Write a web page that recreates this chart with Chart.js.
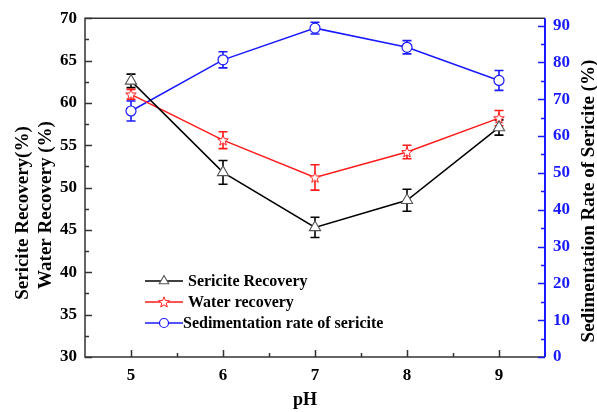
<!DOCTYPE html>
<html>
<head>
<meta charset="utf-8">
<script src="https://cdn.jsdelivr.net/npm/chart.js@4.4.1/dist/chart.umd.min.js"></script>
<style>
  html, body { margin: 0; padding: 0; background: #fff; }
  #wrap { width: 597px; height: 412px; }
</style>
</head>
<body>
<div id="wrap"><canvas id="chart" width="597" height="412"></canvas></div>
<script>
// pH values tested
const phValues = [5, 6, 7, 8, 9];

// Sericite recovery (%) with standard deviation
const sericiteRecovery = [62.6, 51.8, 45.3, 48.5, 57.1];
const sericiteErr = [0.8, 1.4, 1.2, 1.3, 0.9];

// Water recovery (%) with standard deviation
const waterRecovery = [61.0, 55.6, 51.2, 54.2, 58.2];
const waterErr = [0.6, 1.0, 1.5, 0.8, 0.9];

// Sedimentation rate of sericite (%) with standard deviation
const sedimentationRate = [66.8, 80.7, 89.3, 84.1, 75.1];
const sedimentationErr = [2.7, 2.2, 1.6, 1.8, 2.7];

// Axis tick labels
const leftTicks = [30, 35, 40, 45, 50, 55, 60, 65, 70];
const rightTicks = [0, 10, 20, 30, 40, 50, 60, 70, 80, 90];

const FONT = '"Liberation Serif", "Times New Roman", serif';
const BLUE = '#1a1aff';
const RED = '#ff1a1a';
const BLACK = '#000000';

// Hollow five-pointed star marker
function makeStar(color, ro) {
  const size = Math.ceil(ro * 2 + 4);
  const c = document.createElement('canvas');
  c.width = size; c.height = size;
  const g = c.getContext('2d');
  const cx = size / 2, cy = size / 2 + ro * 0.08, ri = ro * 0.42;
  g.beginPath();
  for (let k = 0; k < 10; k++) {
    const r = k % 2 === 0 ? ro : ri;
    const a = -Math.PI / 2 + k * Math.PI / 5;
    const px = cx + r * Math.cos(a), py = cy + r * Math.sin(a);
    if (k === 0) g.moveTo(px, py); else g.lineTo(px, py);
  }
  g.closePath();
  g.fillStyle = '#fff';
  g.fill();
  g.strokeStyle = color;
  g.lineWidth = 1;
  g.stroke();
  return c;
}
const starMarker = makeStar(RED, 5.6);

const toPoints = (vals) => vals.map((v, i) => ({ x: phValues[i], y: v }));

const datasets = [
  {
    label: 'Sericite Recovery',
    data: toPoints(sericiteRecovery),
    errors: sericiteErr,
    yAxisID: 'y',
    borderColor: BLACK,
    borderWidth: 1.5,
    pointStyle: 'triangle',
    pointRadius: 6.5,
    pointBorderColor: '#555',
    pointBackgroundColor: '#fff',
    pointBorderWidth: 1.1,
    errColor: BLACK
  },
  {
    label: 'Water recovery',
    data: toPoints(waterRecovery),
    errors: waterErr,
    yAxisID: 'y',
    borderColor: RED,
    borderWidth: 1.5,
    pointStyle: starMarker,
    pointRadius: 6,
    pointBorderColor: RED,
    pointBackgroundColor: '#fff',
    errColor: RED
  },
  {
    label: 'Sedimentation rate of sericite',
    data: toPoints(sedimentationRate),
    errors: sedimentationErr,
    yAxisID: 'y2',
    borderColor: BLUE,
    borderWidth: 1.5,
    pointStyle: 'circle',
    pointRadius: 5,
    pointBorderColor: BLUE,
    pointBackgroundColor: '#fff',
    pointBorderWidth: 1.2,
    errColor: BLUE
  }
];

// Error bars with caps, drawn beneath the markers
const errorBars = {
  id: 'errorBars',
  beforeDatasetsDraw(chart) {
    const ctx = chart.ctx;
    const xs = chart.scales.x;
    chart.data.datasets.forEach((ds) => {
      const ys = chart.scales[ds.yAxisID];
      ctx.save();
      ctx.strokeStyle = ds.errColor;
      ctx.lineWidth = 1.6;
      ds.data.forEach((p, i) => {
        const e = ds.errors[i];
        const x = xs.getPixelForValue(p.x);
        const yt = ys.getPixelForValue(p.y + e);
        const yb = ys.getPixelForValue(p.y - e);
        ctx.beginPath();
        ctx.moveTo(x, yt); ctx.lineTo(x, yb);
        ctx.moveTo(x - 4.5, yt); ctx.lineTo(x + 4.5, yt);
        ctx.moveTo(x - 4.5, yb); ctx.lineTo(x + 4.5, yb);
        ctx.stroke();
      });
      ctx.restore();
    });
  }
};

// Plot frame with inward major/minor ticks
const frameAndTicks = {
  id: 'frameAndTicks',
  afterDraw(chart) {
    const ctx = chart.ctx;
    const a = chart.chartArea;
    const xs = chart.scales.x, yl = chart.scales.y, yr = chart.scales.y2;
    ctx.save();
    ctx.lineCap = 'butt';
    // top, left, bottom frame
    ctx.strokeStyle = '#333';
    ctx.lineWidth = 1.5;
    ctx.beginPath();
    ctx.moveTo(a.right, a.top); ctx.lineTo(a.left, a.top);
    ctx.lineTo(a.left, a.bottom); ctx.lineTo(a.right, a.bottom);
    ctx.stroke();
    // bottom ticks
    ctx.beginPath();
    for (let v = 5; v <= 9; v += 0.5) {
      const x = Math.round(xs.getPixelForValue(v)) + 0.5;
      const len = Number.isInteger(v) ? 7 : 4;
      ctx.moveTo(x, a.bottom); ctx.lineTo(x, a.bottom - len);
    }
    // left ticks
    for (let v = 30; v <= 70; v += 2.5) {
      const y = Math.round(yl.getPixelForValue(v)) + 0.5;
      const len = v % 5 === 0 ? 7 : 4;
      ctx.moveTo(a.left, y); ctx.lineTo(a.left + len, y);
    }
    ctx.stroke();
    // right axis in blue
    ctx.strokeStyle = BLUE;
    ctx.lineWidth = 2;
    ctx.beginPath();
    ctx.moveTo(a.right, a.top); ctx.lineTo(a.right, a.bottom);
    ctx.stroke();
    ctx.lineWidth = 1.5;
    ctx.beginPath();
    for (let v = 0; v <= 90; v += 5) {
      const y = Math.round(yr.getPixelForValue(v)) + 0.5;
      const len = v % 10 === 0 ? 7 : 4;
      ctx.moveTo(a.right, y); ctx.lineTo(a.right - len, y);
    }
    ctx.stroke();
    ctx.restore();
  }
};

// Axis titles
const axisTitles = {
  id: 'axisTitles',
  afterDraw(chart) {
    const ctx = chart.ctx;
    ctx.save();
    ctx.fillStyle = BLACK;
    ctx.font = 'bold 19px ' + FONT;
    ctx.textAlign = 'center';
    ctx.textBaseline = 'middle';
    const vtext = (txt, x, y) => {
      ctx.save();
      ctx.translate(x, y);
      ctx.rotate(-Math.PI / 2);
      ctx.fillText(txt, 0, 0);
      ctx.restore();
    };
    vtext('Sericite Recovery(%)', 23, 213);
    vtext('Water Recovery (%)', 46, 205);
    vtext('Sedimentation Rate of Sericite (%)', 589, 201);
    ctx.font = 'bold 18px ' + FONT;
    ctx.fillText('pH', 305, 400);
    ctx.restore();
  }
};

// Legend inside the plot area
const innerLegend = {
  id: 'innerLegend',
  afterDraw(chart) {
    const ctx = chart.ctx;
    const rows = [281, 302, 323];
    const radii = [5.5, 5, 4.5];
    ctx.save();
    chart.data.datasets.forEach((ds, i) => {
      const y = rows[i];
      ctx.strokeStyle = ds.borderColor;
      ctx.lineWidth = 1.5;
      ctx.beginPath();
      ctx.moveTo(145, y); ctx.lineTo(183, y);
      ctx.stroke();
      ctx.fillStyle = ds.pointBackgroundColor;
      ctx.strokeStyle = ds.pointBorderColor;
      ctx.lineWidth = ds.pointBorderWidth || 1;
      Chart.helpers.drawPoint(ctx, {
        pointStyle: ds.pointStyle,
        radius: radii[i],
        rotation: 0,
        borderWidth: ds.pointBorderWidth || 1
      }, 164, y);
      ctx.fillStyle = BLACK;
      ctx.font = 'bold 16px ' + FONT;
      ctx.textAlign = 'left';
      ctx.textBaseline = 'middle';
      ctx.fillText(ds.label, i === 2 ? 183 : 188, y + 1);
    });
    ctx.restore();
  }
};

new Chart(document.getElementById('chart'), {
  type: 'line',
  data: { datasets },
  options: {
    responsive: false,
    animation: false,
    devicePixelRatio: 1,
    layout: { padding: { top: 17, left: 0, right: 0, bottom: 0 } },
    plugins: {
      legend: { display: false },
      tooltip: { enabled: false }
    },
    scales: {
      x: {
        type: 'linear',
        min: 4.5,
        max: 9.5,
        afterBuildTicks: (s) => { s.ticks = phValues.map((v) => ({ value: v })); },
        afterFit: (s) => { s.height = 55; },
        grid: { display: false, drawTicks: false },
        border: { display: false },
        ticks: { color: BLACK, padding: 8, font: { family: FONT, size: 17, weight: 'bold' } }
      },
      y: {
        position: 'left',
        min: 30,
        max: 70,
        afterBuildTicks: (s) => { s.ticks = leftTicks.map((v) => ({ value: v })); },
        afterFit: (s) => { s.width = 85; },
        grid: { display: false, drawTicks: false },
        border: { display: false },
        ticks: { color: BLACK, padding: 8, font: { family: FONT, size: 17, weight: 'bold' } }
      },
      y2: {
        position: 'right',
        min: 0,
        max: 92,
        afterBuildTicks: (s) => { s.ticks = rightTicks.map((v) => ({ value: v })); },
        afterFit: (s) => { s.width = 52; },
        grid: { display: false, drawTicks: false },
        border: { display: false },
        ticks: { color: BLUE, padding: 8, font: { family: FONT, size: 17, weight: 'bold' } }
      }
    }
  },
  plugins: [errorBars, frameAndTicks, axisTitles, innerLegend]
});
</script>
</body>
</html>
